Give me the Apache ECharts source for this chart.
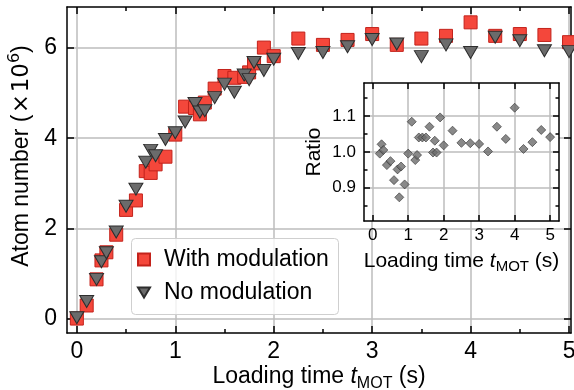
<!DOCTYPE html>
<html><head><meta charset="utf-8">
<script src="https://cdn.jsdelivr.net/npm/echarts@6/dist/echarts.min.js"></script>
<style>html,body{margin:0;padding:0;background:#fff}#c{width:574px;height:390px}</style>
</head><body><div id="c"></div>
<script>
// ---- data ----
const tLoad = [0,0.1,0.2,0.25,0.3,0.4,0.5,0.6,0.7,0.75,0.8,0.9,1.0,1.1,1.2,1.25,1.3,1.4,1.5,1.6,1.7,1.75,1.8,1.9,2.0,2.25,2.5,2.75,3.0,3.25,3.5,3.75,4.0,4.25,4.5,4.75,5.0];
const withMod = [0,0.29,0.87,1.29,1.47,1.86,2.41,2.62,3.27,3.23,3.42,3.59,4.08,4.70,4.67,4.53,4.79,5.10,5.38,5.34,5.36,5.46,5.66,6.01,5.82,6.21,6.07,6.18,6.31,6.07,6.21,6.27,6.57,6.27,6.31,6.29,6.13];
const noMod = [0.02,0.38,0.87,1.26,1.46,1.92,2.49,2.87,3.47,3.73,3.61,3.97,4.12,4.36,4.77,4.58,4.61,4.90,5.20,5.02,5.40,5.30,5.68,5.50,5.75,5.88,5.90,6.03,6.19,6.09,5.81,6.07,5.90,6.24,6.16,5.94,5.92];
const tRatio = [0.2,0.25,0.3,0.4,0.5,0.6,0.7,0.75,0.8,0.9,1.0,1.1,1.2,1.25,1.3,1.4,1.5,1.6,1.7,1.75,1.8,1.9,2.0,2.25,2.5,2.75,3.0,3.25,3.5,3.75,4.0,4.25,4.5,4.75,5.0];
const ratio = [0.995,1.021,1.005,0.963,0.974,0.921,0.951,0.873,0.959,0.909,0.995,1.084,0.977,0.991,1.040,1.040,1.040,1.070,0.998,1.031,0.998,1.096,1.018,1.059,1.025,1.024,1.022,1.001,1.070,1.036,1.123,1.008,1.027,1.061,1.041];
const xTicks = [0,1,2,3,4,5];
const xMinorTicks = [0.5,1.5,2.5,3.5,4.5];
const yTicks = [0,2,4,6];
const insetXTicks = [0,1,2,3,4,5];
const insetYTicks = [0.9,1.0,1.1];
const insetYMinorTicks = [0.85,0.95,1.05,1.15];
const seriesNames = ['With modulation','No modulation'];

// ---- chart ----
const FF = 'Liberation Sans, Arial, Helvetica, sans-serif';
const MF = 'DejaVu Sans, sans-serif';
const chart = echarts.init(document.getElementById('c'), null, {renderer:'canvas'});
const black = {color:'#000', width:1.5};
const gridCol = '#bcbcbd';

function ax(o){
  const a = {
    type:'value', gridIndex:o.grid, position:o.pos, min:o.min, max:o.max, z:o.z||0,
    nameMoveOverlap:false,
    axisLine:{show:o.line!==false, onZero:false, lineStyle:black},
    axisTick:{show:true, inside:true, length:o.tickLen||7, lineStyle:black, customValues:o.ticks},
    axisLabel:{show:!!o.labels, customValues:o.ticks, margin:o.margin||7, fontSize:o.fs||23, color:'#000', fontFamily:FF,
               formatter:o.fmt||(v=>String(v)), showMinLabel:true, showMaxLabel:true},
    splitLine:{show:!!o.split, lineStyle:{color:gridCol, width:1.5}},
    splitNumber:o.sn||5
  };
  if(o.name){
    const s = Math.round(o.nfs*0.7);
    a.name=o.name; a.nameLocation='middle'; a.nameGap=o.nameGap;
    a.nameTextStyle={fontSize:o.nfs, color:'#000', fontFamily:FF, lineHeight:o.nlh, padding:o.npad||0,
      rich:{
        i:{fontStyle:'italic', fontSize:o.nfs, fontFamily:FF, color:'#000'},
        sub:{fontSize:s, fontFamily:FF, color:'#000', lineHeight:12, verticalAlign:'bottom'},
        op:{fontSize:o.nfs, fontFamily:MF, color:'#000', padding:[0,1.5,0,1.5]},
        m:{fontSize:o.nfs, fontFamily:MF, color:'#000'},
        sup:{fontSize:s, fontFamily:MF, color:'#000', lineHeight:12, verticalAlign:'top'}
      }};
  }
  return a;
}

const option = {
  animation:false,
  backgroundColor:'#fff',
  grid:[
    {left:67, top:7, width:504, height:326, show:false, containLabel:false, outerBoundsMode:'none'},
    {left:364, top:83, width:195, height:138, show:true, backgroundColor:'#fff', borderWidth:0, z:5, containLabel:false, outerBoundsMode:'none'}
  ],
  xAxis:[
    ax({grid:0,pos:'bottom',min:-0.1,max:5.02,ticks:xTicks,labels:true,split:true,margin:7,
        name:'Loading time {i|t}{sub|MOT} (s)',nameGap:29,nfs:23,nlh:30}),
    ax({grid:0,pos:'top',min:-0.1,max:5.02,ticks:xTicks}),
    ax({grid:0,pos:'bottom',min:-0.1,max:5.02,ticks:xMinorTicks,line:false,tickLen:4}),
    ax({grid:0,pos:'top',min:-0.1,max:5.02,ticks:xMinorTicks,line:false,tickLen:4}),
    ax({grid:1,pos:'bottom',min:-0.245,max:5.25,ticks:insetXTicks,labels:true,split:true,fs:17,margin:6,z:6,tickLen:6,
        name:'Loading time {i|t}{sub|MOT} (s)',nameGap:27,nfs:21,nlh:26}),
    ax({grid:1,pos:'top',min:-0.245,max:5.25,ticks:insetXTicks,z:6,tickLen:6})
  ],
  yAxis:[
    ax({grid:0,pos:'left',min:-0.32,max:6.91,ticks:yTicks,labels:true,split:true,margin:10,sn:4,
        name:'Atom number ({op|×}{m|10}{sup|6})',nameGap:30,nfs:23,nlh:30,npad:[0,0,0,28]}),
    ax({grid:0,pos:'right',min:-0.32,max:6.91,ticks:yTicks}),
    ax({grid:1,pos:'left',min:0.807,max:1.192,ticks:insetYTicks,labels:true,split:true,fs:17,margin:8,z:6,tickLen:6,
        fmt:v=>v.toFixed(1), name:'Ratio',nameGap:37,nfs:21,nlh:26}),
    ax({grid:1,pos:'right',min:0.807,max:1.192,ticks:insetYTicks,z:6,tickLen:6}),
    ax({grid:1,pos:'left',min:0.807,max:1.192,ticks:insetYMinorTicks,line:false,z:6,tickLen:3.5}),
    ax({grid:1,pos:'right',min:0.807,max:1.192,ticks:insetYMinorTicks,line:false,z:6,tickLen:3.5})
  ],
  graphic:[{type:'rect', left:131, top:238, z:3,
    shape:{width:207, height:76, r:4},
    style:{fill:'rgba(255,255,255,0.8)', stroke:'#cfcfcf', lineWidth:1}}],
  legend:{
    orient:'vertical', left:137, top:248, padding:0, itemGap:10, itemWidth:12, itemHeight:12, z:4,
    textStyle:{fontSize:23, color:'#000', fontFamily:FF, padding:[0,0,0,9]},
    data:[{name:seriesNames[0], icon:'rect'},{name:seriesNames[1], icon:'path://M0,0L20,0L10,17Z'}]
  },
  series:[
    {type:'scatter', name:seriesNames[0], xAxisIndex:0, yAxisIndex:0, z:2,
     symbol:'rect', symbolSize:13,
     itemStyle:{color:'#f4473b', borderColor:'#c3221b', borderWidth:1, opacity:1},
     data:tLoad.map((t,i)=>[t,withMod[i]])},
    {type:'scatter', name:seriesNames[1], xAxisIndex:0, yAxisIndex:0, z:3,
     symbol:'triangle', symbolRotate:180, symbolSize:[14,12],
     itemStyle:{color:'#6b6b6b', borderColor:'#2d2d2d', borderWidth:1, opacity:1},
     data:tLoad.map((t,i)=>[t,noMod[i]])},
    {type:'scatter', name:'Ratio', xAxisIndex:4, yAxisIndex:2, z:7,
     symbol:'diamond', symbolSize:9,
     itemStyle:{color:'#6b6b6b', borderColor:'#333', borderWidth:0.8},
     data:tRatio.map((t,i)=>[t,ratio[i]])}
  ]
};
chart.setOption(option);
</script></body></html>
